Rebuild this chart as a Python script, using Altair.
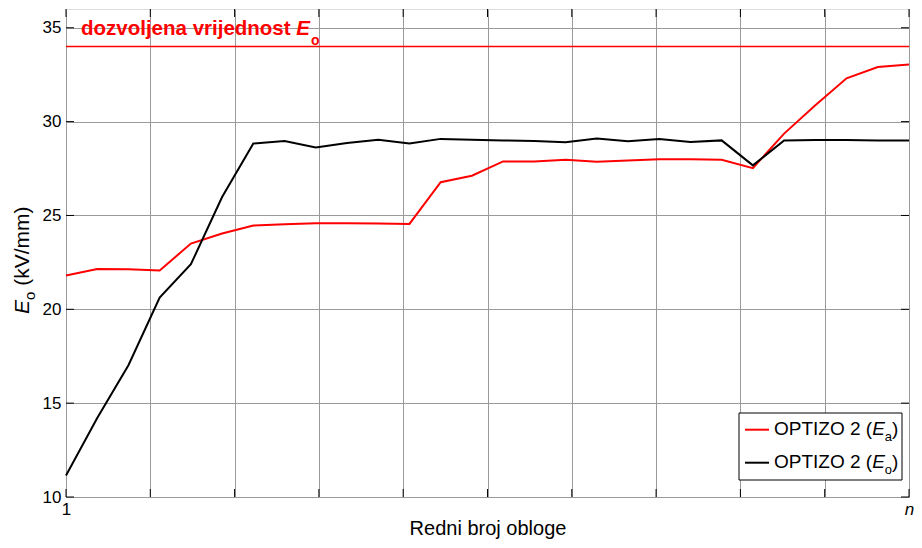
import altair as alt
import pandas as pd

# ---- data ----
IDX = list(range(28))  # 28 linings, 1..n
RED_EA = [21.8, 22.15, 22.14, 22.07, 23.5, 24.04, 24.46, 24.53, 24.59, 24.59,
          24.57, 24.55, 26.77, 27.12, 27.88, 27.88, 27.97, 27.86, 27.93, 28.0,
          28.0, 27.97, 27.52, 29.36, 30.87, 32.31, 32.91, 33.04]
BLACK_EO = [11.15, 14.21, 17.02, 20.63, 22.4, 25.98, 28.83, 28.97, 28.62, 28.86,
            29.04, 28.83, 29.08, 29.04, 29.0, 28.97, 28.9, 29.1, 28.95, 29.08,
            28.92, 29.0, 27.67, 28.99, 29.02, 29.02, 29.0, 29.0]
SERIES = ["OPTIZO 2 (Ea)", "OPTIZO 2 (Eo)"]
COLORS = ["#ff0000", "#000000"]
LIMIT = [34]
X_GRID = [0, 2.7, 5.4, 8.1, 10.8, 13.5, 16.2, 18.9, 21.6, 24.3, 27]
Y_TICKS = [10, 15, 20, 25, 30, 35]

W, H = 843, 488
PAD = {"left": 58, "top": 1, "right": 5, "bottom": 43}
FONT = "Liberation Sans"

# Arial / Liberation Sans advance widths (per 1000 em)
REG = {' ': 278, '(': 333, ')': 333, '2': 556, 'O': 778, 'P': 667, 'T': 611, 'I': 278,
       'Z': 611, 'E': 667, 'a': 556, 'o': 556, 'k': 500, 'V': 667, '/': 278, 'm': 833}
BOLD = {'d': 611, 'o': 611, 'z': 500, 'v': 556, 'l': 278, 'j': 278, 'e': 556, 'n': 611,
        'a': 556, ' ': 278, 'r': 389, 'i': 278, 's': 556, 't': 333, 'E': 667}


def tw(s, size, table):
    return sum(table[c] for c in s) / 1000 * size


df = pd.concat([
    pd.DataFrame({"k": IDX, "v": RED_EA, "s": SERIES[0]}),
    pd.DataFrame({"k": IDX, "v": BLACK_EO, "s": SERIES[1]}),
])

xscale = alt.Scale(domain=[0, 27], nice=False, zero=False)
yscale = alt.Scale(domain=[10, 36], nice=False, zero=False)

xaxis = alt.Axis(values=X_GRID, grid=True, gridColor="#9a9a9a", gridWidth=1, ticks=False,
                 domain=False, labelExpr="datum.value == 0 ? '1' : (datum.value > 26.9 ? 'n' : '')",
                 labelFontStyle={"condition": {"test": "datum.value > 26.9", "value": "italic"},
                                 "value": "normal"},
                 labelFontSize=17, labelFont=FONT, labelColor="black", labelPadding=4,
                 labelFlush=False, labelOverlap=False,
                 title="Redni broj obloge", titleFont=FONT, titleFontSize=20,
                 titleFontWeight="normal", titleColor="black", titlePadding=1)
yaxis = alt.Axis(values=Y_TICKS, grid=True, gridColor="#9a9a9a", gridWidth=1, ticks=False,
                 domain=False, labelFontSize=17, labelFont=FONT, labelColor="black",
                 labelPadding=5, title="")

lines = alt.Chart(df).mark_line(strokeWidth=2).encode(
    x=alt.X("k:Q", scale=xscale, axis=xaxis),
    y=alt.Y("v:Q", scale=yscale, axis=yaxis),
    color=alt.Color("s:N", scale=alt.Scale(domain=SERIES, range=COLORS), legend=None),
)

limit = alt.Chart(pd.DataFrame({"y": LIMIT})).mark_rule(color="#ff0000", strokeWidth=1.5).encode(
    y=alt.Y("y:Q", scale=yscale)
)

# inward ticks (MATLAB style)
xt = pd.DataFrame({"x": X_GRID})
yt = pd.DataFrame({"y": Y_TICKS})
tick_style = dict(color="black", strokeWidth=1)
tb = alt.Chart(xt).mark_rule(**tick_style).encode(x=alt.X("x:Q", scale=xscale), y=alt.value(H), y2=alt.value(H - 8))
tt = alt.Chart(xt).mark_rule(**tick_style).encode(x=alt.X("x:Q", scale=xscale), y=alt.value(0), y2=alt.value(8))
tl = alt.Chart(yt).mark_rule(**tick_style).encode(y=alt.Y("y:Q", scale=yscale), x=alt.value(0), x2=alt.value(8))
tr = alt.Chart(yt).mark_rule(**tick_style).encode(y=alt.Y("y:Q", scale=yscale), x=alt.value(W), x2=alt.value(W - 8))

layers = [lines, limit, tb, tt, tl, tr]

# annotation "dozvoljena vrijednost E_o" anchored on the limit line
ann_main = "dozvoljena vrijednost"
AF = 20.5
ann_x0 = 15
ann_anchor = dict(x=alt.value(0), y=alt.Y(datum=LIMIT[0], scale=yscale))
w_main = tw(ann_main + " ", AF, BOLD)
w_E = tw("E", AF, BOLD)
layers.append(alt.Chart().mark_text(text=ann_main, font=FONT, fontSize=AF, fontWeight="bold",
                                    color="#ff0000", align="left", baseline="alphabetic",
                                    dx=ann_x0, dy=-12).encode(**ann_anchor))
layers.append(alt.Chart().mark_text(text="E", font=FONT, fontSize=AF, fontWeight="bold",
                                    fontStyle="italic", color="#ff0000", align="left",
                                    baseline="alphabetic", dx=ann_x0 + w_main, dy=-12).encode(**ann_anchor))
layers.append(alt.Chart().mark_text(text="o", font=FONT, fontSize=14, fontWeight="bold",
                                    color="#ff0000", align="left", baseline="alphabetic",
                                    dx=ann_x0 + w_main + w_E + 1, dy=-2).encode(**ann_anchor))

# y-axis title  E_o (kV/mm), rotated
YF = 21
yt_anchor = dict(x=alt.value(-37), y=alt.value(H / 2 + 61))
w_Ey = tw("E", YF, REG)
w_oy = tw("o", 15, REG)
w_sp = tw(" ", YF, REG)
for txt, size, style, dx, dy in [("E", YF, "italic", 0, 0),
                                 ("o", 15, "normal", w_Ey, 6),
                                 ("(kV/mm)", YF, "normal", w_Ey + w_oy + w_sp, 0)]:
    layers.append(alt.Chart().mark_text(text=txt, font=FONT, fontSize=size, fontStyle=style,
                                        color="black", align="left", baseline="alphabetic",
                                        angle=270, dx=dx, dy=dy).encode(**yt_anchor))

# legend box (positioned from the plot's lower right corner)
layers.append(alt.Chart().mark_rect(fill="white", stroke="black", strokeWidth=1).encode(
    x=alt.value(W - 170), x2=alt.value(W - 7), y=alt.value(H - 84), y2=alt.value(H - 17)))
LF = 19
for i, (sub, col) in enumerate([("a", COLORS[0]), ("o", COLORS[1])]):
    ly = H - 67.3 + i * 33
    by = H - 62.5 + i * 33
    layers.append(alt.Chart().mark_rule(color=col, strokeWidth=2).encode(
        x=alt.value(W - 164), x2=alt.value(W - 140), y=alt.value(ly)))
    anchor = dict(x=alt.value(W - 135), y=alt.value(by))
    w1 = tw("OPTIZO 2 (", LF, REG)
    w2 = tw("E", LF, REG)
    w3 = tw(sub, 13, REG)
    for txt, size, style, dx, dy in [("OPTIZO 2 (", LF, "normal", 0, 0),
                                     ("E", LF, "italic", w1, 0),
                                     (sub, 13, "normal", w1 + w2, 6),
                                     (")", LF, "normal", w1 + w2 + w3, 0)]:
        layers.append(alt.Chart().mark_text(text=txt, font=FONT, fontSize=size, fontStyle=style,
                                            color="black", align="left", baseline="alphabetic",
                                            dx=dx, dy=dy).encode(**anchor))

chart = alt.layer(*layers).properties(
    width=W, height=H,
    autosize=alt.AutoSizeParams(type="none"),
    padding=PAD,
).configure_view(stroke="black", strokeWidth=1.5).configure(background="white")

chart.save("out.html", embed_options={"renderer": "svg", "actions": False})
